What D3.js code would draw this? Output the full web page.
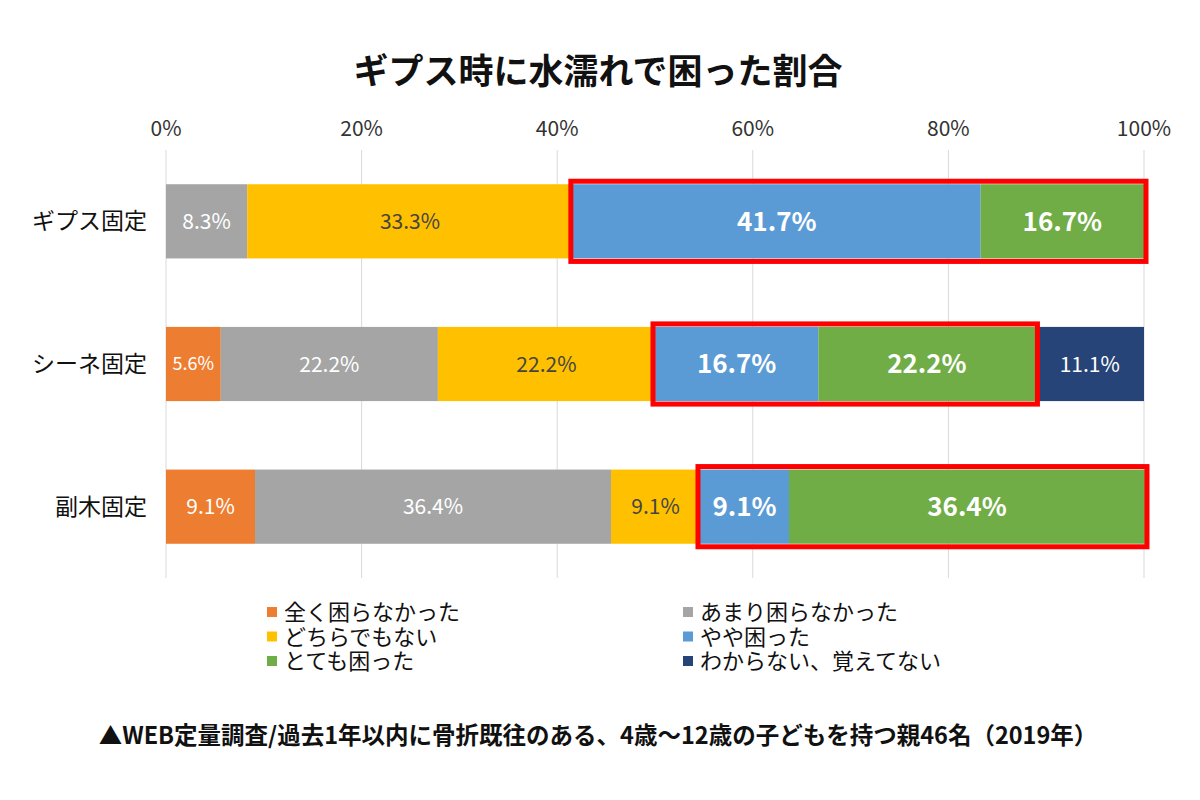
<!DOCTYPE html>
<html><head><meta charset="utf-8">
<script src="https://cdn.jsdelivr.net/npm/d3@7"></script>
<style>body{margin:0;background:#fff;font-family:"Noto Sans CJK JP","Noto Sans",sans-serif}</style>
</head><body>
<svg id="c" width="1200" height="800"></svg>
<script>
const categories = ["ギプス固定","シーネ固定","副木固定"];
const seriesNames = ["全く困らなかった","あまり困らなかった","どちらでもない","やや困った","とても困った","わからない、覚えてない"];
const seriesColors = ["#ED7D31","#A5A5A5","#FFC000","#5B9BD5","#70AD47","#264478"];
const values = [
  [0, 8.3, 33.3, 41.7, 16.7, 0],
  [5.6, 22.2, 22.2, 16.7, 22.2, 11.1],
  [9.1, 36.4, 9.1, 9.1, 36.4, 0]
];
const tickValues = [0,20,40,60,80,100];
const highlightSeries = [3,4];

const svg = d3.select("#c");
const x = d3.scaleLinear().domain([0,100]).range([166,1144]);
const y = d3.scaleBand().domain(categories).range([150,578]).paddingInner(0.48).paddingOuter(0.24);

svg.append("text").attr("x",598).attr("y",84).attr("text-anchor","middle")
  .attr("font-size",35).attr("font-weight","bold").attr("fill","#111").text("ギプス時に水濡れで困った割合");

svg.append("g").selectAll("line").data(tickValues).join("line")
  .attr("x1",d=>x(d)).attr("x2",d=>x(d)).attr("y1",150).attr("y2",578)
  .attr("stroke","#d9d9d9").attr("stroke-width",1);
svg.append("g").selectAll("text").data(tickValues).join("text")
  .attr("x",d=>x(d)).attr("y",136).attr("text-anchor","middle").attr("font-size",21).attr("fill","#333")
  .text(d=>d+"%");

categories.forEach((c,i)=>{
  let acc=0;
  const yy=y(c), h=y.bandwidth();
  svg.append("text").attr("x",147).attr("y",yy+h/2+8).attr("text-anchor","end").attr("font-size",23).attr("fill","#111").text(c);
  values[i].forEach((v,j)=>{
    const x0=acc; acc+=v;
    if(v<=0) return;
    svg.append("rect").attr("x",x(x0)).attr("y",yy).attr("width",x(acc)-x(x0)).attr("height",h).attr("fill",seriesColors[j]);
    const hl=highlightSeries.includes(j);
    const fs = hl?26:(v<7?18:21);
    svg.append("text").attr("x",(x(x0)+x(acc))/2).attr("y",yy+h/2+fs*0.36)
      .attr("text-anchor","middle").attr("font-size",fs).attr("font-weight",hl?"bold":"normal")
      .attr("fill",j===2?"#444":"#fff").text(v.toFixed(1)+"%");
  });
  const start=d3.sum(values[i].slice(0,highlightSeries[0]));
  const end=start+d3.sum(highlightSeries.map(k=>values[i][k]));
  svg.append("rect").attr("x",x(start)-2).attr("y",yy-3).attr("width",x(end)-x(start)+4).attr("height",h+6)
    .attr("fill","none").attr("stroke","#FF0000").attr("stroke-width",5);
});

const lg=svg.append("g");
seriesNames.forEach((n,j)=>{
  const col=j%2, row=Math.floor(j/2);
  const lx=col?688:272, ly=612+row*24.5;
  lg.append("rect").attr("x",lx-5).attr("y",ly-5).attr("width",10).attr("height",10).attr("fill",seriesColors[j]);
  lg.append("text").attr("x",lx+12).attr("y",ly+8).attr("font-size",22).attr("fill","#111").text(n);
});

svg.append("text").attr("x",598).attr("y",744).attr("text-anchor","middle").attr("font-size",23.5).attr("font-weight","bold").attr("fill","#111")
  .text("▲WEB定量調査/過去1年以内に骨折既往のある、4歳～12歳の子どもを持つ親46名（2019年）");
</script>
</body></html>
